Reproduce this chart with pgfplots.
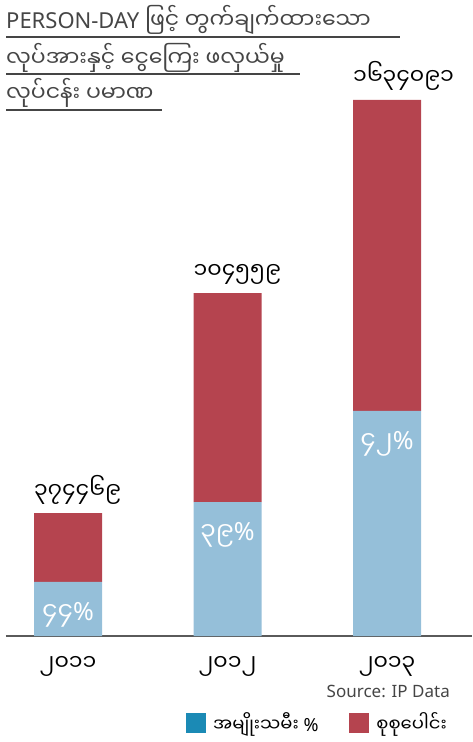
\documentclass[border=0pt]{standalone}
\usepackage{fontspec}
\setmainfont{Noto Sans}
\newfontfamily\mm[Script=Myanmar]{Noto Sans Myanmar UI}
\usepackage{pgfplots}
\pgfplotsset{compat=1.18}

\definecolor{barred}{HTML}{B5444F}
\definecolor{barblue}{HTML}{95BFD9}
\definecolor{legblue}{HTML}{1B8AB5}
\definecolor{txtgray}{HTML}{454545}
\definecolor{axgray}{HTML}{5A5A5A}

\newcommand{\pct}{{\normalfont\%}}

\begin{document}
\begin{tikzpicture}
\useasboundingbox (0,0) rectangle (472pt,742pt);

% title, underlined line by line
\begin{scope}[every node/.style={anchor=base west, inner sep=0pt, text=txtgray,
    font=\fontsize{22}{24}\selectfont}]
  \node at (6pt,713pt) {PERSON-DAY {\mm ဖြင့် တွက်ချက်ထားသော}};
  \node at (6pt,675pt) {\mm လုပ်အားနှင့် ငွေကြေး ဖလှယ်မှု};
  \node at (6pt,640pt) {\mm လုပ်ငန်း ပမာဏ};
\end{scope}
\draw[txtgray, line width=1.4pt] (6pt,705pt) -- (400pt,705pt);
\draw[txtgray, line width=1.4pt] (6pt,668pt) -- (300pt,668pt);
\draw[txtgray, line width=1.4pt] (6pt,632pt) -- (162pt,632pt);

\begin{axis}[
  at={(6pt,106pt)}, anchor=south west,
  scale only axis, width=466pt, height=600pt,
  xmin=-0.389, xmax=2.533, ymin=0, ymax=1829206,
  ybar stacked, bar width=68pt,
  axis x line=bottom, axis y line=none,
  x axis line style={-, line width=2pt, color=axgray},
  xtick={0,1,2},
  xticklabels={{၂၀၁၁},{၂၀၁၂},{၂၀၁၃}},
  xtick style={draw=none},
  x tick label style={font=\mm\fontsize{22}{24}\selectfont, anchor=base, yshift=-32pt},
  legend columns=2,
  legend style={at={(0.3863,-0.145)}, anchor=west, draw=none, fill=none,
    inner sep=0pt, font=\mm\fontsize{18}{20}\selectfont,
    /tikz/every odd column/.append style={column sep=7pt},
    /tikz/every even column/.append style={column sep=31pt},
    nodes={inner sep=0pt, anchor=west}},
  legend cell align=left,
  clip=false,
]
% women (share of total)
\addplot[fill=barblue, draw=none,
  legend image code/.code={\fill[legblue] (0pt,-10pt) rectangle (20pt,10pt);}]
  coordinates {(0,164766) (1,407780) (2,686318)};
\addlegendentry{အမျိုးသမီး \pct}
% rest up to the total
\addplot[fill=barred, draw=none,
  legend image code/.code={\fill[barred] (0pt,-10pt) rectangle (20pt,10pt);}]
  coordinates {(0,209703) (1,637810) (2,947773)};
\addlegendentry{စုစုပေါင်း}

\coordinate (t0) at (axis cs:0,374469);
\coordinate (t1) at (axis cs:1,1045590);
\coordinate (t2) at (axis cs:2,1634091);
\coordinate (w0) at (axis cs:0,164766);
\coordinate (w1) at (axis cs:1,407780);
\coordinate (w2) at (axis cs:2,686318);
\end{axis}

% totals above the bars
\begin{scope}[every node/.style={anchor=base west, inner sep=0pt, xshift=-34pt, yshift=15pt,
    font=\mm\fontsize{22}{24}\selectfont}]
  \node at (t0) {၃၇၄၄၆၉};
  \node at (t1) {၁၀၄၅၅၉};
  \node at (t2) {၁၆၃၄၀၉၁};
\end{scope}
% shares inside the blue parts
\begin{scope}[every node/.style={inner sep=0pt, yshift=-33pt, text=white,
    font=\mm\fontsize{25}{27}\selectfont}]
  \node at (w0) {၄၄\pct};
  \node at (w1) {၃၉\pct};
  \node at (w2) {၄၂\pct};
\end{scope}

\node[anchor=base east, inner sep=0pt, text=txtgray, font=\fontsize{17}{19}\selectfont]
  at (450pt,45pt) {Source: IP Data};
\end{tikzpicture}
\end{document}
